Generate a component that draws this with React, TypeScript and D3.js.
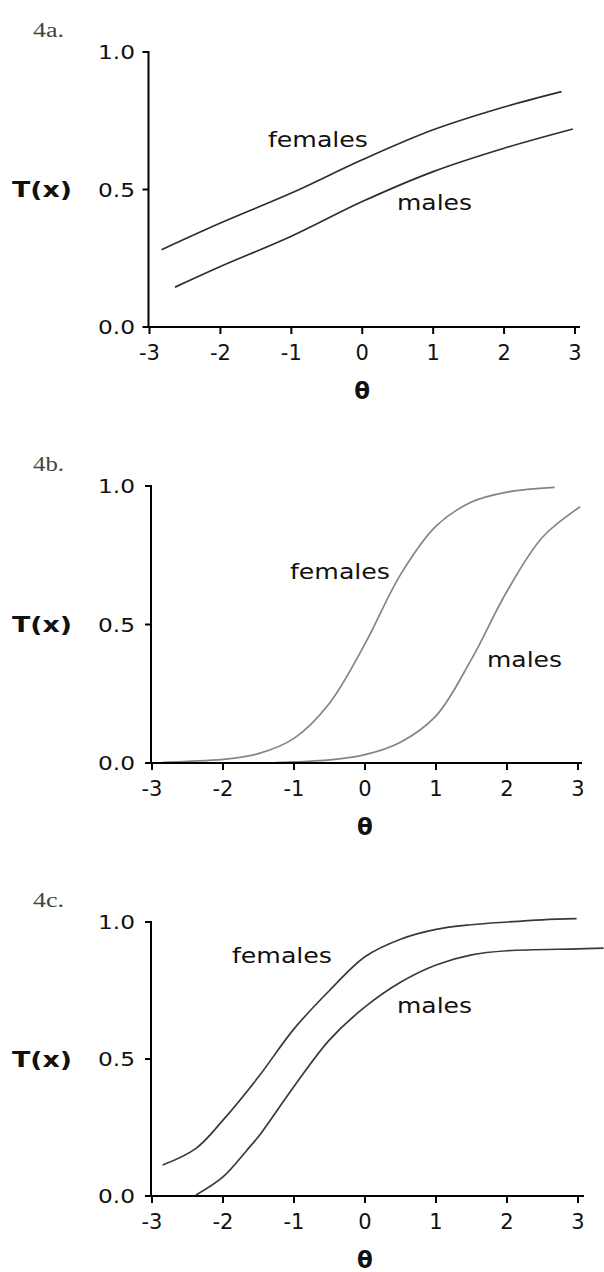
import React from "react";
import * as d3 from "d3";

// ---- data ----
const xTicks = [-3, -2, -1, 0, 1, 2, 3];
const yTicks = [0, 0.5, 1];
const yTickLabels = ["0.0", "0.5", "1.0"];
const seriesNames = ["females", "males"];
const panelLabels = ["4a.", "4b.", "4c."];

// Panel 4a
const aFemTheta = [-2.83, -2, -1, 0, 1, 2, 2.81];
const aFemT = [0.281, 0.378, 0.487, 0.608, 0.717, 0.8, 0.856];
const aMalTheta = [-2.64, -2, -1, 0, 1, 2, 2.97];
const aMalT = [0.145, 0.22, 0.33, 0.456, 0.565, 0.65, 0.72];

// Panel 4b
const bFemTheta = [-2.85, -2.5, -2, -1.5, -1, -0.5, 0, 0.5, 1, 1.5, 2, 2.67];
const bFemT = [0.002, 0.006, 0.013, 0.034, 0.089, 0.216, 0.43, 0.68, 0.855, 0.942, 0.978, 0.995];
const bMalTheta = [-1.25, -1, -0.5, 0, 0.5, 1, 1.5, 2, 2.5, 3.03];
const bMalT = [0.001, 0.004, 0.011, 0.03, 0.075, 0.17, 0.375, 0.62, 0.815, 0.925];

// Panel 4c
const cFemTheta = [-2.85, -2.38, -2, -1.5, -1, -0.5, 0, 0.5, 1, 1.5, 2, 2.5, 2.98];
const cFemT = [0.113, 0.174, 0.277, 0.435, 0.61, 0.75, 0.873, 0.937, 0.973, 0.99, 1.0, 1.008, 1.012];
const cMalTheta = [-2.38, -2, -1.66, -1.5, -1, -0.5, 0, 0.5, 1, 1.5, 2, 3, 3.36];
const cMalT = [0.004, 0.07, 0.168, 0.217, 0.4, 0.57, 0.69, 0.78, 0.843, 0.88, 0.895, 0.902, 0.905];

const zip = (xs: number[], ys: number[]) => xs.map((x, i) => [x, ys[i]] as [number, number]);

// layout (pixels)
const panels = [
  {
    label: panelLabels[0],
    x0: 149.5, x1: 575, xEnd: 580, yTop: 52, yBot: 327,
    color: "#2e2e2e",
    fem: zip(aFemTheta, aFemT), mal: zip(aMalTheta, aMalT),
    femLab: [268, 147], malLab: [397, 210],
  },
  {
    label: panelLabels[1],
    x0: 152, x1: 578, xEnd: 582, yTop: 486, yBot: 763,
    color: "#858585",
    fem: zip(bFemTheta, bFemT), mal: zip(bMalTheta, bMalT),
    femLab: [290, 579], malLab: [487, 667],
  },
  {
    label: panelLabels[2],
    x0: 152, x1: 578, xEnd: 584, yTop: 922, yBot: 1196,
    color: "#3a3a3a",
    fem: zip(cFemTheta, cFemT), mal: zip(cMalTheta, cMalT),
    femLab: [232, 963], malLab: [397, 1013],
  },
];

const tickFont = "'DejaVu Sans', Verdana, sans-serif";

function Panel({ p }: { p: (typeof panels)[number] }) {
  const x = d3.scaleLinear().domain([-3, 3]).range([p.x0, p.x1]);
  const y = d3.scaleLinear().domain([0, 1]).range([p.yBot, p.yTop]);
  const line = d3
    .line<[number, number]>()
    .x((d) => x(d[0]))
    .y((d) => y(d[1]))
    .curve(d3.curveCatmullRom.alpha(0.5));
  const axisX = x(-3) - 1;
  return (
    <g>
      <text
        x={33}
        y={p.yTop - 15}
        fontFamily="'Liberation Serif', 'Times New Roman', serif"
        fontSize={20}
        fill="#444"
        textLength={31}
        lengthAdjust="spacingAndGlyphs"
      >
        {p.label}
      </text>
      {/* curves */}
      <path d={line(p.fem) || ""} fill="none" stroke={p.color} strokeWidth={1.7} />
      <path d={line(p.mal) || ""} fill="none" stroke={p.color} strokeWidth={1.7} />
      {/* y axis */}
      <line x1={axisX} x2={axisX} y1={y(1) - 1} y2={y(0) + 1} stroke="#000" strokeWidth={2} />
      {yTicks.map((t, i) => (
        <g key={"y" + t}>
          <line x1={axisX - 6} x2={axisX} y1={y(t)} y2={y(t)} stroke="#000" strokeWidth={2} />
          <text
            x={135}
            y={y(t)}
            textAnchor="end"
            dominantBaseline="central"
            fontFamily={tickFont}
            fontSize={20}
            fill="#111"
            textLength={37}
            lengthAdjust="spacingAndGlyphs"
          >
            {yTickLabels[i]}
          </text>
        </g>
      ))}
      {/* x axis */}
      <line x1={axisX - 1} x2={p.xEnd} y1={y(0)} y2={y(0)} stroke="#000" strokeWidth={2} />
      {xTicks.map((t) => (
        <g key={"x" + t}>
          <line x1={x(t)} x2={x(t)} y1={y(0)} y2={y(0) + 7} stroke="#000" strokeWidth={2} />
          <text
            x={x(t)}
            y={y(0) + 26}
            textAnchor="middle"
            dominantBaseline="central"
            fontFamily={tickFont}
            fontSize={21}
            fill="#111"
          >
            {String(t)}
          </text>
        </g>
      ))}
      {/* axis titles */}
      <text
        x={42}
        y={y(0.5)}
        textAnchor="middle"
        dominantBaseline="central"
        fontFamily={tickFont}
        fontWeight="bold"
        fontSize={22}
        fill="#111"
        textLength={60}
        lengthAdjust="spacingAndGlyphs"
      >
        T(x)
      </text>
      <text
        x={x(0)}
        y={y(0) + 64}
        textAnchor="middle"
        dominantBaseline="central"
        fontFamily={tickFont}
        fontWeight="bold"
        fontSize={23}
        fill="#111"
      >
        θ
      </text>
      {/* series labels */}
      <text
        x={p.femLab[0]}
        y={p.femLab[1]}
        fontFamily={tickFont}
        fontSize={22}
        fill="#111"
        textLength={100}
        lengthAdjust="spacingAndGlyphs"
      >
        {seriesNames[0]}
      </text>
      <text
        x={p.malLab[0]}
        y={p.malLab[1]}
        fontFamily={tickFont}
        fontSize={22}
        fill="#111"
        textLength={75}
        lengthAdjust="spacingAndGlyphs"
      >
        {seriesNames[1]}
      </text>
    </g>
  );
}

export default function App() {
  return (
    <svg
      width={604}
      height={1272}
      viewBox="0 0 604 1272"
      style={{ position: "absolute", left: 0, top: 0, display: "block", background: "#fff" }}
    >
      <rect x={0} y={0} width={604} height={1272} fill="#fff" />
      {panels.map((p) => (
        <Panel key={p.label} p={p} />
      ))}
    </svg>
  );
}
